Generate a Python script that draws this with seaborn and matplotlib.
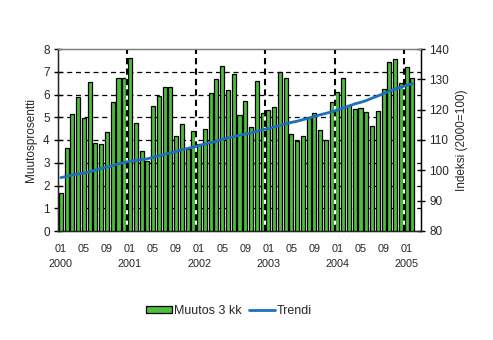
import matplotlib
matplotlib.use("Agg")
import matplotlib.pyplot as plt
import matplotlib.patches as mpatches
import matplotlib.lines as mlines
import numpy as np
import pandas as pd
import seaborn as sns

sns.set_style("white")
plt.rcParams["font.family"] = ["Liberation Sans", "DejaVu Sans"]

# Monthly observations, 2000-01 ... 2005-02
months = pd.period_range("2000-01", "2005-02", freq="M").strftime("%Y-%m").tolist()

# Three-month change, %
change_3m = [1.66, 3.65, 5.15, 5.9, 4.97, 6.56, 3.87, 3.82, 4.35, 5.65,
             6.74, 6.74, 7.62, 4.75, 3.51, 3.09, 5.5, 5.94, 6.34, 6.32,
             4.18, 4.71, 3.62, 4.4, 3.84, 4.49, 6.07, 6.69, 7.26, 6.19,
             6.91, 5.1, 5.72, 4.57, 6.6, 5.2, 5.32, 5.46, 7.0, 6.74,
             4.26, 3.97, 4.18, 4.97, 5.2, 4.45, 3.99, 5.69, 6.12, 6.74,
             5.53, 5.38, 5.41, 5.25, 4.62, 5.29, 6.26, 7.44, 7.57, 6.5,
             7.22, 6.74]

# Trend of the index (2000=100)
trend = [97.6, 98.0, 98.5, 98.8, 99.1, 99.5, 100.1, 100.7, 101.1, 101.6,
         102.1, 102.6, 103.0, 103.3, 103.5, 103.8, 104.3, 104.8, 105.3, 105.7,
         106.2, 106.8, 107.2, 107.7, 108.2, 108.7, 109.1, 109.6, 110.2, 110.7,
         111.1, 111.6, 112.0, 112.3, 112.9, 113.4, 113.8, 114.3, 114.8, 115.3,
         115.8, 116.2, 116.7, 117.2, 117.8, 118.3, 118.8, 119.3, 119.9, 120.6,
         121.2, 121.9, 122.4, 123.0, 123.8, 124.5, 125.3, 126.1, 126.8, 127.4,
         128.0, 128.6]

left_ticks = [0, 1, 2, 3, 4, 5, 6, 7, 8]
right_ticks = [80, 90, 100, 110, 120, 130, 140]

bar_color = "#4DBF3B"
line_color = "#1F6FBF"

df = pd.DataFrame({"month": months, "change": change_3m, "trend": trend})
df["pos"] = np.arange(len(df))

fig = plt.figure(figsize=(4.93, 3.40), dpi=100)
ax = fig.add_axes([58 / 493, 109 / 340, 363 / 493, 182 / 340])

sns.barplot(data=df, x="month", y="change", ax=ax, color=bar_color,
            edgecolor="black", linewidth=0.9, width=0.7, saturation=1, zorder=3)

n_cat = len(df) + 1
ax.set_xlim(-0.5, n_cat - 0.5)
ax.set_ylim(0, 8)
ax.set_yticks(left_ticks)
ax.set_yticklabels([str(t) for t in left_ticks])

# Year boundaries as major ticks and dashed gridlines
year_bounds = [i - 0.5 for i in range(0, len(df), 12)]
ax.set_xticks(year_bounds)
ax.set_xticklabels([])
ax.tick_params(axis="x", which="major", direction="out", length=4, width=1, color="black")
label_pos = list(range(0, len(df), 4))
labels = []
for i in label_pos:
    y, m = months[i].split("-")
    labels.append(f"{m}\n{y}" if m == "01" else m)
ax.set_xticks(label_pos, minor=True)
ax.set_xticklabels(labels, minor=True, fontsize=7.8, linespacing=1.7, va="top")
ax.tick_params(axis="x", which="minor", length=0, pad=9)

for yv in left_ticks[1:-1]:
    ax.axhline(yv, color="black", lw=0.9, ls=(0, (4, 3)), zorder=1)
for xv in year_bounds[1:]:
    ax.axvline(xv, color="white", lw=1.5, zorder=5)
    ax.axvline(xv, color="black", lw=1.5, ls=(0, (3, 2)), zorder=6)

ax.tick_params(axis="y", direction="inout", length=6, width=1, color="black", labelsize=8.5, pad=3)
ax.set_xlabel("")
ax.set_ylabel("Muutosprosentti", fontsize=8.5, labelpad=4)

for side in ["left", "bottom", "right"]:
    ax.spines[side].set_color("black")
    ax.spines[side].set_linewidth(1)
ax.spines["top"].set_color("#808080")
ax.spines["top"].set_linewidth(1)

ax2 = ax.twinx()
sns.lineplot(data=df, x="pos", y="trend", ax=ax2, color=line_color, lw=2, zorder=4)
ax2.set_ylim(80, 140)
ax2.set_yticks(right_ticks)
ax2.set_yticklabels([str(t) for t in right_ticks])
ax2.tick_params(axis="y", direction="inout", length=6, width=1, color="black", labelsize=8.5, pad=3)
ax2.set_ylabel("Indeksi (2000=100)", fontsize=8.5, labelpad=5)
ax2.set_xlabel("")
ax2.spines["right"].set_color("black")
ax2.spines["top"].set_color("#808080")
ax2.set_xlim(-0.5, n_cat - 0.5)

handles = [mpatches.Patch(facecolor=bar_color, edgecolor="black", linewidth=0.9, label="Muutos 3 kk"),
           mlines.Line2D([], [], color=line_color, lw=2, label="Trendi")]
fig.legend(handles=handles, loc="center", bbox_to_anchor=(229 / 493, 1 - 311 / 340),
           ncol=2, frameon=False, fontsize=9, handlelength=2.1, handleheight=0.5,
           handletextpad=0.15, columnspacing=0.6)

fig.savefig("out.png", dpi=100)
